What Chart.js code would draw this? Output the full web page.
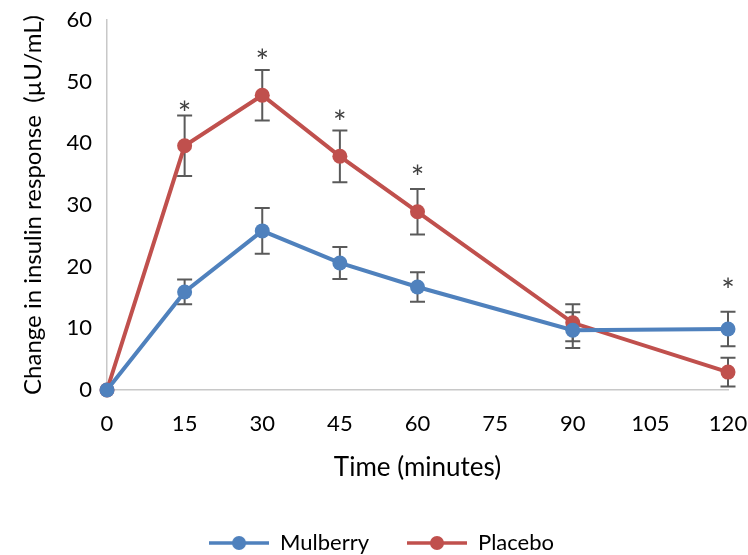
<!doctype html>
<html lang="en">
<head>
    <meta charset="utf-8">
    <title>Change in insulin response</title>
    <script src="https://cdn.jsdelivr.net/npm/chart.js"></script>
    <style>
        html, body { margin: 0; padding: 0; background: #fff; }
        #wrap { width: 748px; height: 555px; position: relative; }
    </style>
</head>
<body>
    <div id="wrap">
        <canvas id="chartEl"></canvas>
    </div>
    <script>
        // time points (minutes)
        const times = [0, 15, 30, 45, 60, 90, 120];
        const xTicks = [0, 15, 30, 45, 60, 75, 90, 105, 120];

        // mean change in insulin (µU/mL) and error (+/-)
        const mulberry = [0, 15.9, 25.8, 20.6, 16.7, 9.7, 9.9];
        const mulberryErr = [0, 2.0, 3.7, 2.6, 2.4, 2.9, 2.8];
        const placebo = [0, 39.6, 47.8, 37.9, 28.9, 10.9, 2.9];
        const placeboErr = [0, 4.9, 4.1, 4.2, 3.7, 3.0, 2.35];

        // significance markers
        const starTimes = [15, 30, 45, 60, 120];
        const starLevels = [46.2, 54.5, 44.6, 35.7, 17.4];

        const BLUE = '#4f81bd';
        const RED = '#c0504d';

        const toPoints = (ys) => times.map((t, i) => ({ x: t, y: ys[i] }));

        // legend icon: short line with a dot in the middle
        const makeIcon = (color) => {
            const c = document.createElement('canvas');
            c.width = 60;
            c.height = 16;
            const g = c.getContext('2d');
            g.strokeStyle = color;
            g.lineWidth = 3.5;
            g.beginPath();
            g.moveTo(0, 8);
            g.lineTo(60, 8);
            g.stroke();
            g.fillStyle = color;
            g.beginPath();
            g.arc(30, 8, 7, 0, Math.PI * 2);
            g.fill();
            return c;
        };
        const icons = [makeIcon(BLUE), makeIcon(RED)];

        const errorBars = {
            id: 'errorBars',
            beforeDatasetsDraw(chart) {
                const { ctx, scales: { x, y } } = chart;
                const errs = [mulberryErr, placeboErr];
                ctx.save();
                ctx.strokeStyle = '#5a5a5a';
                ctx.lineWidth = 2;
                chart.data.datasets.forEach((ds, d) => {
                    ds.data.forEach((p, i) => {
                        const e = errs[d][i];
                        if (!e) return;
                        const px = x.getPixelForValue(p.x);
                        const top = y.getPixelForValue(p.y + e);
                        const bot = y.getPixelForValue(p.y - e);
                        ctx.beginPath();
                        ctx.moveTo(px, top);
                        ctx.lineTo(px, bot);
                        ctx.moveTo(px - 7.5, top);
                        ctx.lineTo(px + 7.5, top);
                        ctx.moveTo(px - 7.5, bot);
                        ctx.lineTo(px + 7.5, bot);
                        ctx.stroke();
                    });
                });
                ctx.restore();
            },
            afterDatasetsDraw(chart) {
                const { ctx, scales: { x, y } } = chart;
                ctx.save();
                ctx.font = '32px Lato';
                ctx.fillStyle = '#404040';
                ctx.textAlign = 'center';
                ctx.textBaseline = 'alphabetic';
                const m = ctx.measureText('*');
                const shift = (m.actualBoundingBoxAscent - m.actualBoundingBoxDescent) / 2;
                starTimes.forEach((t, i) => {
                    ctx.fillText('*', x.getPixelForValue(t), y.getPixelForValue(starLevels[i]) + shift);
                });
                ctx.restore();
            }
        };

        Chart.defaults.font.family = 'Lato';
        Chart.defaults.color = '#000';

        const data = {
            datasets: [{
                label: 'Mulberry',
                data: toPoints(mulberry),
                borderColor: BLUE,
                backgroundColor: BLUE,
                borderWidth: 4,
                pointRadius: 7.5,
                pointHoverRadius: 7.5,
                pointBorderWidth: 0,
                clip: false,
            }, {
                label: 'Placebo',
                data: toPoints(placebo),
                borderColor: RED,
                backgroundColor: RED,
                borderWidth: 4,
                pointRadius: 7.5,
                pointHoverRadius: 7.5,
                pointBorderWidth: 0,
                clip: false,
            }]
        };

        // keep the scales from adding their own label padding, layout.padding decides
        const noPad = (scale) => {
            scale.paddingTop = 0;
            scale.paddingBottom = 0;
            scale.paddingLeft = 0;
            scale.paddingRight = 0;
        };

        const config = {
            type: 'line',
            data: data,
            plugins: [errorBars],
            options: {
                responsive: true,
                maintainAspectRatio: false,
                animation: false,
                layout: { padding: { top: 20, right: 20, bottom: -9, left: 35 } },
                scales: {
                    x: {
                        type: 'linear',
                        min: 0,
                        max: 120,
                        afterBuildTicks: (scale) => {
                            scale.ticks = xTicks.map((v) => ({ value: v }));
                        },
                        afterFit: (scale) => { scale.height = 104; noPad(scale); },
                        grid: { display: false, drawTicks: false },
                        border: { display: true, color: '#c8c8c8', width: 1.5 },
                        ticks: { padding: 21, font: { size: 22 }, maxRotation: 0 },
                        title: {
                            display: true,
                            text: 'Time (minutes)',
                            font: { size: 26 },
                            padding: { top: 0, bottom: 11 }
                        }
                    },
                    y: {
                        min: 0,
                        max: 60,
                        afterFit: (scale) => { scale.width = 72; noPad(scale); },
                        grid: { display: false, drawTicks: false },
                        border: { display: true, color: '#c8c8c8', width: 1.5 },
                        ticks: { stepSize: 10, padding: 15, font: { size: 22 } },
                        title: {
                            display: true,
                            text: 'Change in insulin response  (µU/mL)',
                            font: { size: 24 },
                            padding: { top: -16, bottom: 0 }
                        }
                    }
                },
                plugins: {
                    tooltip: { enabled: false },
                    legend: {
                        position: 'bottom',
                        labels: {
                            usePointStyle: true,
                            pointStyleWidth: 60,
                            padding: 38,
                            font: { size: 22 },
                            generateLabels: (chart) => {
                                const items = Chart.defaults.plugins.legend.labels.generateLabels(chart);
                                items.forEach((it) => { it.pointStyle = icons[it.datasetIndex]; });
                                return items;
                            }
                        }
                    }
                }
            }
        };

        new Chart(document.getElementById('chartEl'), config);
    </script>
</body>
</html>
